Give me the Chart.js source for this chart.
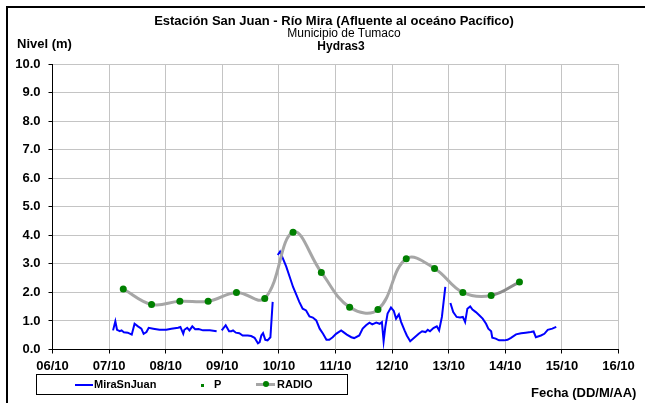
<!DOCTYPE html>
<html>
<head>
<meta charset="utf-8">
<script src="https://cdn.jsdelivr.net/npm/chart.js@4/dist/chart.umd.min.js"></script>
<style>
  html, body { margin: 0; padding: 0; background: #fff; }
  #wrap { position: relative; width: 645px; height: 403px; overflow: hidden; font-family: "Liberation Sans", Arial, sans-serif; color: #000; }
  #c { position: absolute; left: 0; top: 0; }
  .t { position: absolute; white-space: nowrap; line-height: 16px; height: 16px; }
  .frame { position: absolute; left: 6px; top: 6px; width: 800px; height: 600px; border-left: 2px solid #000; border-top: 2px solid #000; }
  #legend { position: absolute; left: 36px; top: 374px; width: 310px; height: 19px; border: 1px solid #000; font-weight: bold; font-size: 11px; }
  #legend span { position: absolute; line-height: 19px; top: 0; white-space: nowrap; }
  #legend i { position: absolute; display: block; }
</style>
</head>
<body>
<div id="wrap">
  <div class="frame"></div>
  <canvas id="c" width="645" height="403"></canvas>
  <div class="t" style="left:334px; top:13px; transform:translateX(-50%); font-weight:bold; font-size:13px;">Estación San Juan  - Río Mira (Afluente al oceáno Pacífico)</div>
  <div class="t" style="left:344px; top:25px; transform:translateX(-50%); font-size:12px;">Municipio de Tumaco</div>
  <div class="t" style="left:341px; top:38px; transform:translateX(-50%); font-weight:bold; font-size:12px;">Hydras3</div>
  <div class="t" style="left:17px; top:36px; font-weight:bold; font-size:13px;">Nivel (m)</div>
  <div class="t" style="left:531px; top:385px; font-weight:bold; font-size:13px;">Fecha (DD/M/AA)</div>
  <div id="legend">
    <i style="left:38px; top:9px; width:18px; height:2px; background:#0000ff;"></i>
    <span style="left:57px;">MiraSnJuan</span>
    <i style="left:164px; top:9px; width:3px; height:3px; background:#008000;"></i>
    <span style="left:177px;">P</span>
    <i style="left:219px; top:8px; width:19px; height:3px; background:#a6a6a6;"></i>
    <i style="left:226px; top:6px; width:6px; height:6px; border-radius:50%; background:#008000;"></i>
    <span style="left:240px;">RADIO</span>
  </div>
</div>
<script>
// Tick labels
const xTickLabels = ['06/10','07/10','08/10','09/10','10/10','11/10','12/10','13/10','14/10','15/10','16/10'];
const yTickLabels = ['0.0','1.0','2.0','3.0','4.0','5.0','6.0','7.0','8.0','9.0','10.0'];

// RADIO series (days since 06/10 00:00, level in m)
const radioDays = [1.25, 1.75, 2.25, 2.75, 3.25, 3.75, 4.25, 4.75, 5.25, 5.75, 6.25, 6.75, 7.25, 7.75, 8.25];
const radioLevels = [2.12, 1.58, 1.69, 1.69, 2.00, 1.79, 4.11, 2.70, 1.48, 1.40, 3.18, 2.84, 2.00, 1.89, 2.36];

// MiraSnJuan series (null = gap in record)
const miraDays = [
  1.07, 1.11, 1.14, 1.19, 1.22, 1.26, 1.33, 1.40, 1.45, 1.51, 1.57, 1.61, 1.66, 1.70, 1.78, 1.89,
  2.01, 2.10, 2.22, 2.26, 2.31, 2.33, 2.38, 2.42, 2.47, 2.52, 2.58, 2.66, 2.78, 2.90, 2.95,
  2.99, 3.06, 3.12, 3.16, 3.19, 3.24, 3.30, 3.36, 3.45, 3.51, 3.57, 3.63, 3.66, 3.69, 3.72, 3.76,
  3.80, 3.85, 3.89, 3.93,
  3.98, 4.02, 4.07, 4.13, 4.19, 4.25, 4.30, 4.36, 4.42, 4.48, 4.54, 4.60, 4.66, 4.72, 4.78, 4.84,
  4.89, 4.95, 5.01, 5.10, 5.14, 5.20, 5.28, 5.33, 5.42, 5.48, 5.54, 5.60, 5.65, 5.72, 5.78, 5.82,
  5.85, 5.88, 5.92, 5.98, 6.03, 6.07, 6.12, 6.16, 6.22, 6.26, 6.32, 6.39, 6.47, 6.53, 6.59, 6.63,
  6.67, 6.73, 6.79, 6.83, 6.88, 6.94, 6.98,
  7.03, 7.08, 7.14, 7.20, 7.25, 7.29, 7.33, 7.38, 7.42, 7.48, 7.54, 7.60, 7.66, 7.70, 7.75, 7.77,
  7.83, 7.89, 7.98, 8.04, 8.10, 8.19, 8.28, 8.36, 8.45, 8.50, 8.54, 8.63, 8.69, 8.75, 8.83, 8.90
];
const miraLevels = [
  0.67, 0.99, 0.69, 0.64, 0.67, 0.60, 0.59, 0.52, 0.90, 0.81, 0.73, 0.55, 0.61, 0.76, 0.73, 0.69,
  0.69, 0.73, 0.76, 0.79, 0.55, 0.69, 0.76, 0.67, 0.81, 0.71, 0.72, 0.67, 0.67, 0.64, null,
  0.67, 0.85, 0.64, 0.64, 0.67, 0.59, 0.57, 0.49, 0.49, 0.47, 0.41, 0.22, 0.26, 0.49, 0.57, 0.34,
  0.32, 0.43, 1.67, null,
  3.31, 3.43, 3.19, 2.90, 2.55, 2.19, 1.96, 1.67, 1.43, 1.37, 1.16, 1.12, 1.02, 0.73, 0.55, 0.34,
  0.34, 0.43, 0.55, 0.67, 0.61, 0.52, 0.43, 0.40, 0.49, 0.73, 0.85, 0.94, 0.88, 0.94, 0.90, 0.96,
  0.29, 0.79, 1.26, 1.47, 1.35, 1.08, 1.23, 0.96, 0.67, 0.49, 0.29, 0.41, 0.55, 0.64, 0.61, 0.69,
  0.64, 0.75, 0.81, 0.67, 1.14, 2.19, null,
  1.63, 1.31, 1.14, 1.12, 1.14, 0.96, 1.43, 1.51, 1.40, 1.31, 1.20, 1.08, 0.90, 0.73, 0.64, 0.41,
  0.38, 0.32, 0.32, 0.34, 0.41, 0.53, 0.57, 0.59, 0.61, 0.63, 0.43, 0.49, 0.55, 0.69, 0.73, 0.79
];

const miraData = miraDays.map((d, i) => ({ x: d, y: miraLevels[i] }));
const radioData = radioDays.map((d, i) => ({ x: d, y: radioLevels[i] }));

const tickFont = { family: '"Liberation Sans", Arial, sans-serif', size: 13, weight: 'bold' };

new Chart(document.getElementById('c'), {
  type: 'line',
  data: {
    datasets: [
      {
        label: 'MiraSnJuan',
        data: miraData,
        borderColor: '#0000ff',
        borderWidth: 2,
        pointRadius: 0,
        tension: 0,
        spanGaps: false,
        order: 2
      },
      {
        label: 'RADIO',
        data: radioData,
        borderColor: '#a6a6a6',
        borderWidth: 3,
        pointRadius: 3.5,
        pointBackgroundColor: '#008000',
        pointBorderWidth: 0,
        tension: 0.4,
        segment: {
          borderColor: ctx => ctx.p1DataIndex === radioDays.length - 1 ? '#8c8c8c' : undefined
        },
        order: 1
      }
    ]
  },
  options: {
    responsive: false,
    animation: false,
    layout: { padding: { left: 0, top: 64, right: 26.5, bottom: 28.5 } },
    plugins: { legend: { display: false }, tooltip: { enabled: false }, title: { display: false } },
    scales: {
      x: {
        type: 'linear',
        min: 0, max: 10,
        afterFit: s => { s.height = 25; },
        ticks: {
          stepSize: 1, autoSkip: false, maxRotation: 0, padding: 5,
          color: '#000', font: tickFont,
          callback: (v, i) => xTickLabels[i]
        },
        grid: { color: '#c4c4c4', lineWidth: 1, tickColor: '#000', tickLength: 4 },
        border: { color: '#000', width: 1 }
      },
      y: {
        min: 0, max: 10,
        afterFit: s => { s.width = 52.5; },
        ticks: {
          stepSize: 1, autoSkip: false, padding: 8,
          color: '#000', font: tickFont,
          callback: (v, i) => yTickLabels[i]
        },
        grid: { color: '#c4c4c4', lineWidth: 1, tickColor: '#000', tickLength: 4 },
        border: { color: '#000', width: 1 }
      }
    }
  }
});
</script>
</body>
</html>
